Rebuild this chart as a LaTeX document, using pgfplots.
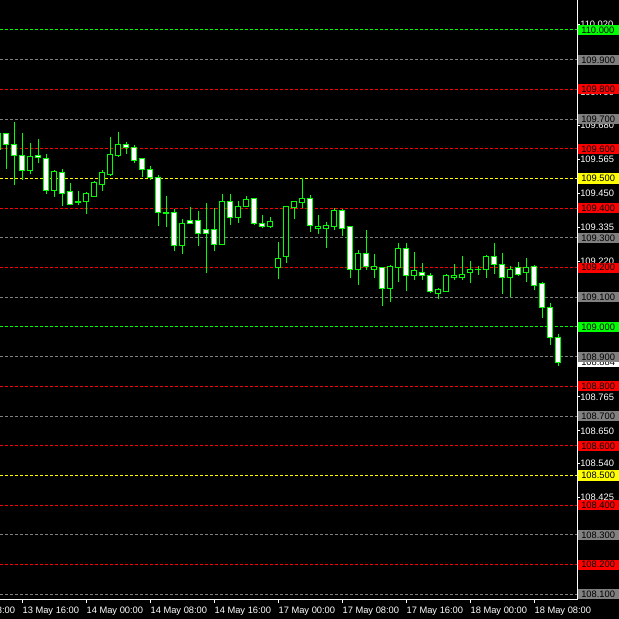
\documentclass[border=0pt]{standalone}
\usepackage{fontspec}
\setmainfont{Liberation Sans}
\usepackage{pgfplots}
\usepackage{pgfplotstable}
\pgfplotsset{compat=1.18}
\definecolor{mtgreen}{HTML}{00FF00}
\definecolor{mtred}{HTML}{FF0000}
\definecolor{mtgray}{HTML}{808080}
\definecolor{mtyellow}{HTML}{FFFF00}

% hourly candles: k = bar index, open high low close
\pgfplotstableread{
k o h l c
-1 109.599 109.650 109.599 109.650
0 109.650 109.650 109.532 109.614
1 109.616 109.690 109.478 109.577
2 109.578 109.653 109.495 109.526
3 109.526 109.620 109.515 109.575
4 109.578 109.633 109.552 109.571
5 109.569 109.582 109.448 109.461
6 109.461 109.529 109.438 109.522
7 109.519 109.532 109.407 109.448
8 109.455 109.485 109.411 109.414
9 109.424 109.458 109.411 109.418
10 109.421 109.455 109.380 109.448
11 109.441 109.492 109.438 109.485
12 109.481 109.529 109.458 109.519
13 109.515 109.640 109.508 109.582
14 109.579 109.657 109.572 109.616
15 109.613 109.623 109.582 109.604
16 109.603 109.613 109.552 109.562
17 109.566 109.566 109.505 109.529
18 109.529 109.542 109.495 109.502
19 109.502 109.512 109.340 109.385
20 109.387 109.441 109.337 109.381
21 109.384 109.397 109.256 109.276
22 109.276 109.364 109.246 109.350
23 109.357 109.404 109.347 109.350
24 109.357 109.391 109.273 109.316
25 109.327 109.418 109.182 109.316
26 109.327 109.401 109.256 109.279
27 109.279 109.448 109.279 109.424
28 109.424 109.448 109.343 109.370
29 109.367 109.424 109.350 109.407
30 109.407 109.441 109.407 109.428
31 109.431 109.434 109.343 109.347
32 109.350 109.377 109.333 109.340
33 109.337 109.370 109.333 109.354
34 109.202 109.286 109.162 109.232
35 109.239 109.407 109.215 109.407
36 109.401 109.424 109.364 109.421
37 109.418 109.502 109.401 109.431
38 109.434 109.444 109.320 109.341
39 109.333 109.377 109.313 109.340
40 109.333 109.354 109.266 109.343
41 109.340 109.401 109.327 109.391
42 109.391 109.397 109.306 109.333
43 109.337 109.337 109.165 109.195
44 109.195 109.259 109.141 109.249
45 109.249 109.327 109.192 109.205
46 109.195 109.246 109.165 109.205
47 109.199 109.202 109.071 109.128
48 109.128 109.209 109.084 109.205
49 109.202 109.283 109.152 109.263
50 109.263 109.283 109.121 109.175
51 109.175 109.253 109.158 109.189
52 109.185 109.215 109.158 109.172
53 109.175 109.182 109.114 109.118
54 109.114 109.131 109.094 109.125
55 109.121 109.178 109.118 109.172
56 109.168 109.212 109.158 109.175
57 109.165 109.239 109.158 109.178
58 109.182 109.222 109.148 109.195
59 109.192 109.205 109.175 109.195
60 109.192 109.242 109.165 109.239
61 109.239 109.283 109.178 109.209
62 109.212 109.249 109.111 109.165
63 109.165 109.205 109.101 109.195
64 109.199 109.219 109.172 109.178
65 109.182 109.232 109.152 109.202
66 109.205 109.209 109.125 109.141
67 109.145 109.152 109.030 109.064
68 109.067 109.081 108.939 108.963
69 108.966 108.976 108.869 108.882
}\candles

\pgfplotsset{
  mtframe/.style={at={(0,14.25pt)}, anchor=south west, scale only axis,
    width=432.75pt, height=450pt,
    xmin=-0.7875, xmax=71.3375, ymin=108.0808, ymax=110.1010},
  lvl/.style={draw=#1, line width=0.75pt, dash pattern=on 2.25pt off 1.5pt, forget plot},
}
\tikzset{
  lbl/.style={fill=#1, text=black, anchor=west, xshift=0.4pt, inner xsep=2.6pt,
    inner ysep=0pt, text width=28pt, minimum height=7.6pt, text height=5pt,
    text depth=0pt, font=\fontsize{7}{8}\selectfont},
}

\begin{document}
\begin{tikzpicture}
\fill[black, use as bounding box] (0,0) rectangle (464.25pt,464.25pt);

% levels, frame, ticks
\begin{axis}[mtframe, clip=false,
  axis x line*=bottom, axis y line*=right,
  axis line style={white, line width=0.75pt},
  tick style={white, line width=0.75pt}, major tick length=2.25pt, tick align=outside,
  xtick={2,10,18,26,34,42,50,58,66},
  xticklabels={13 May 16:00, 14 May 00:00, 14 May 08:00, 14 May 16:00, 17 May 00:00,
    17 May 08:00, 17 May 16:00, 18 May 00:00, 18 May 08:00},
  ytick={110.020,109.790,109.680,109.565,109.450,109.335,109.220,
    108.765,108.650,108.540,108.425,108.080},
  yticklabels={110.020,109.790,109.680,109.565,109.450,109.335,109.220,
    108.765,108.650,108.540,108.425,108.080},
  ticklabel style={text=white, font=\fontsize{7}{8}\selectfont, inner sep=0pt},
  xticklabel style={anchor=north west, yshift=-2.5pt},
  yticklabel style={anchor=west},
]
\addplot[lvl=mtgreen]  coordinates {(-0.7875,110.0) (71.3375,110.0)};
\addplot[lvl=mtgray]   coordinates {(-0.7875,109.9) (71.3375,109.9)};
\addplot[lvl=mtred]    coordinates {(-0.7875,109.8) (71.3375,109.8)};
\addplot[lvl=mtgray]   coordinates {(-0.7875,109.7) (71.3375,109.7)};
\addplot[lvl=mtred]    coordinates {(-0.7875,109.6) (71.3375,109.6)};
\addplot[lvl=mtyellow] coordinates {(-0.7875,109.5) (71.3375,109.5)};
\addplot[lvl=mtred]    coordinates {(-0.7875,109.4) (71.3375,109.4)};
\addplot[lvl=mtgray]   coordinates {(-0.7875,109.3) (71.3375,109.3)};
\addplot[lvl=mtred]    coordinates {(-0.7875,109.2) (71.3375,109.2)};
\addplot[lvl=mtgray]   coordinates {(-0.7875,109.1) (71.3375,109.1)};
\addplot[lvl=mtgreen]  coordinates {(-0.7875,109.0) (71.3375,109.0)};
\addplot[lvl=mtgray]   coordinates {(-0.7875,108.9) (71.3375,108.9)};
\addplot[lvl=mtred]    coordinates {(-0.7875,108.8) (71.3375,108.8)};
\addplot[lvl=mtgray]   coordinates {(-0.7875,108.7) (71.3375,108.7)};
\addplot[lvl=mtred]    coordinates {(-0.7875,108.6) (71.3375,108.6)};
\addplot[lvl=mtyellow] coordinates {(-0.7875,108.5) (71.3375,108.5)};
\addplot[lvl=mtred]    coordinates {(-0.7875,108.4) (71.3375,108.4)};
\addplot[lvl=mtgray]   coordinates {(-0.7875,108.3) (71.3375,108.3)};
\addplot[lvl=mtred]    coordinates {(-0.7875,108.2) (71.3375,108.2)};
\addplot[lvl=mtgray]   coordinates {(-0.7875,108.1) (71.3375,108.1)};
\node[text=white, font=\fontsize{7}{8}\selectfont, inner sep=0pt, anchor=north west,
  yshift=-4.7pt] at (axis cs:-6,108.0808) {13 May 08:00};
\end{axis}

% wicks (high-low) first
\begin{axis}[mtframe, hide axis]
\addplot[draw=none, mark=none,
  error bars/.cd, y dir=both, y explicit, error mark=none,
  error bar style={draw=mtgreen, line width=0.75pt, solid}]
  table[x=k, y=o, y error plus expr={\thisrow{h}-\thisrow{o}},
    y error minus expr={\thisrow{o}-\thisrow{l}}] {\candles};
\end{axis}

% bodies: invisible base up to min(open,close), then bear / bull body
\begin{axis}[mtframe, hide axis, ybar stacked, bar width=0.58]
\addplot[draw=none, fill=none]
  table[x=k, y expr={min(\thisrow{o},\thisrow{c})}] {\candles};
\addplot[draw=mtgreen, fill=white, line width=0.75pt]
  table[x=k, y expr={max(\thisrow{o}-\thisrow{c},0)}] {\candles};
\addplot[draw=mtgreen, fill=black, line width=0.75pt]
  table[x=k, y expr={max(\thisrow{c}-\thisrow{o},0)}] {\candles};
\end{axis}

% price labels on the right
\begin{axis}[mtframe, hide axis, clip=false]
\node[lbl=white] at (axis cs:71.3375,108.882) {108.884};
\node[lbl=mtgreen]  at (axis cs:71.3375,110.0) {110.000};
\node[lbl=mtgray]   at (axis cs:71.3375,109.9) {109.900};
\node[lbl=mtred]    at (axis cs:71.3375,109.8) {109.800};
\node[lbl=mtgray]   at (axis cs:71.3375,109.7) {109.700};
\node[lbl=mtred]    at (axis cs:71.3375,109.6) {109.600};
\node[lbl=mtyellow] at (axis cs:71.3375,109.5) {109.500};
\node[lbl=mtred]    at (axis cs:71.3375,109.4) {109.400};
\node[lbl=mtgray]   at (axis cs:71.3375,109.3) {109.300};
\node[lbl=mtred]    at (axis cs:71.3375,109.2) {109.200};
\node[lbl=mtgray]   at (axis cs:71.3375,109.1) {109.100};
\node[lbl=mtgreen]  at (axis cs:71.3375,109.0) {109.000};
\node[lbl=mtgray]   at (axis cs:71.3375,108.9) {108.900};
\node[lbl=mtred]    at (axis cs:71.3375,108.8) {108.800};
\node[lbl=mtgray]   at (axis cs:71.3375,108.7) {108.700};
\node[lbl=mtred]    at (axis cs:71.3375,108.6) {108.600};
\node[lbl=mtyellow] at (axis cs:71.3375,108.5) {108.500};
\node[lbl=mtred]    at (axis cs:71.3375,108.4) {108.400};
\node[lbl=mtgray]   at (axis cs:71.3375,108.3) {108.300};
\node[lbl=mtred]    at (axis cs:71.3375,108.2) {108.200};
\node[lbl=mtgray]   at (axis cs:71.3375,108.1) {108.100};
\end{axis}
\end{tikzpicture}
\end{document}
